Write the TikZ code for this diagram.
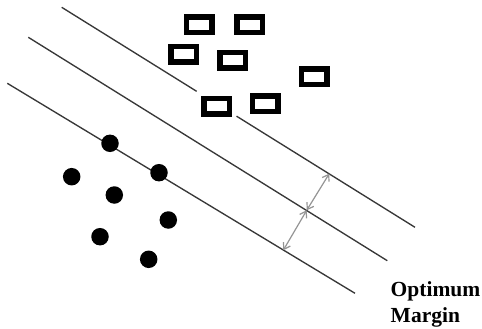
\documentclass[tikz,border=0pt]{standalone}
\usepackage{fontspec}
\setmainfont{Liberation Serif}
\usetikzlibrary{arrows.meta,calc}
\definecolor{hyper}{HTML}{383838}
\definecolor{marginarrow}{HTML}{959595}
\tikzset{
  hyperplane/.style={draw=hyper,line width=1.35pt},
  boxpoint/.style={draw=black,fill=white,line width=5.5pt,rectangle,
    minimum width=25.5pt,minimum height=15.5pt,inner sep=0pt},
  dotpoint/.style={circle,fill=black,minimum size=17.5pt,inner sep=0pt},
  marginline/.style={draw=marginarrow,line width=1.2pt,
    {Straight Barb[length=6pt,width=8pt]}-{Straight Barb[length=6pt,width=8pt]}},
  caption/.style={anchor=base west,inner sep=0pt,font=\bfseries\fontsize{21.5}{26}\selectfont}
}
\begin{document}
\begin{tikzpicture}[x=1pt,y=-1pt]
\useasboundingbox (0,0) rectangle (482,329);
% end points of the three parallel lines
\coordinate (ta) at (61.7,7.3);   \coordinate (tb) at (415,227.3);
\coordinate (ma) at (28.3,37.3);  \coordinate (mb) at (387.3,260.7);
\coordinate (ba) at (7.3,83.3);   \coordinate (bb) at (355,293.3);
% upper margin line, broken where it passes behind a box
\draw[hyperplane] (ta) -- ($(ta)!0.382!(tb)$);
\draw[hyperplane] ($(ta)!0.495!(tb)$) -- (tb);
% separating hyperplane and lower margin line
\draw[hyperplane] (ma) -- (mb);
\draw[hyperplane] (ba) -- (bb);
% margin arrows
\coordinate (pm) at (306.7,210.3);
\coordinate (pt) at (329.3,173.6);
\coordinate (pb) at (283.3,250.2);
\draw[marginline] (pm) -- (pt);
\draw[marginline] (pm) -- (pb);
% class 1: boxes
\node[boxpoint] (r1) at (199.3,25) {};
\node[boxpoint] (r2) at (249.7,25) {};
\node[boxpoint] (r3) at (183.8,54.5) {};
\node[boxpoint] (r4) at (232.8,60.3) {};
\node[boxpoint] (r5) at (314,76.7) {};
\node[boxpoint] (r6) at (216.7,106.2) {};
\node[boxpoint] (r7) at (265.3,103.7) {};
% class 2: dots
\node[dotpoint] (d1) at (110,143.3) {};
\node[dotpoint] (d2) at (71.7,176.7) {};
\node[dotpoint] (d3) at (159,172.7) {};
\node[dotpoint] (d4) at (114.3,195) {};
\node[dotpoint] (d5) at (168.3,220) {};
\node[dotpoint] (d6) at (100,236.7) {};
\node[dotpoint] (d7) at (148.7,259.3) {};
% label
\node[caption] (opt) at (390.5,296.7) {Optimum};
\node[caption] (mar) at (390.5,322.7) {Margin};
\end{tikzpicture}
\end{document}
